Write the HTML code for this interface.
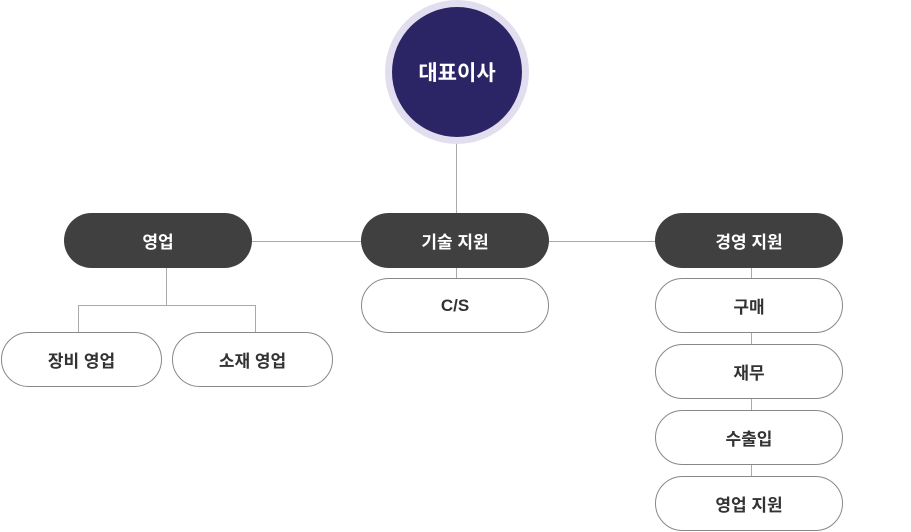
<!DOCTYPE html>
<html><head><meta charset="utf-8"><style>
body{margin:0;width:911px;height:532px;background:#fff;position:relative;overflow:hidden;font-family:"Liberation Sans","Noto Sans CJK KR",sans-serif;}
.p{position:absolute;box-sizing:border-box;border-radius:28px;display:flex;align-items:center;justify-content:center;font-size:17px;font-weight:bold;}
.d{background:#404040;color:#fff;}
.w{background:#fff;color:#333;border:1px solid #888;}
.l{position:absolute;background:#aaa;}
</style></head><body>
<div class="l" style="left:456px;top:140px;width:1px;height:75px"></div>
<div class="l" style="left:250px;top:241px;width:410px;height:1px"></div>
<div class="l" style="left:166px;top:266px;width:1px;height:40px"></div>
<div class="l" style="left:78px;top:305px;width:178px;height:1px"></div>
<div class="l" style="left:78px;top:305px;width:1px;height:28px"></div>
<div class="l" style="left:255px;top:305px;width:1px;height:28px"></div>
<div class="l" style="left:456px;top:266px;width:1px;height:14px"></div>
<div class="l" style="left:751px;top:266px;width:1px;height:212px"></div>
<div style="position:absolute;left:385px;top:0;width:144px;height:144px;border-radius:50%;background:#e2def0"></div>
<div style="position:absolute;left:392px;top:7px;width:130px;height:130px;border-radius:50%;background:#2b2566;color:#fff;display:flex;align-items:center;justify-content:center;font-size:21px;font-weight:bold">대표이사</div>
<div class="p d" style="left:64px;top:213px;width:188px;height:55px">영업</div>
<div class="p d" style="left:361px;top:213px;width:188px;height:55px">기술 지원</div>
<div class="p d" style="left:655px;top:213px;width:188px;height:55px">경영 지원</div>
<div class="p w" style="left:361px;top:278px;width:188px;height:55px">C/S</div>
<div class="p w" style="left:1px;top:332px;width:161px;height:55px">장비 영업</div>
<div class="p w" style="left:172px;top:332px;width:161px;height:55px">소재 영업</div>
<div class="p w" style="left:655px;top:278px;width:188px;height:55px">구매</div>
<div class="p w" style="left:655px;top:344px;width:188px;height:55px">재무</div>
<div class="p w" style="left:655px;top:410px;width:188px;height:55px">수출입</div>
<div class="p w" style="left:655px;top:476px;width:188px;height:55px">영업 지원</div>
</body></html>
